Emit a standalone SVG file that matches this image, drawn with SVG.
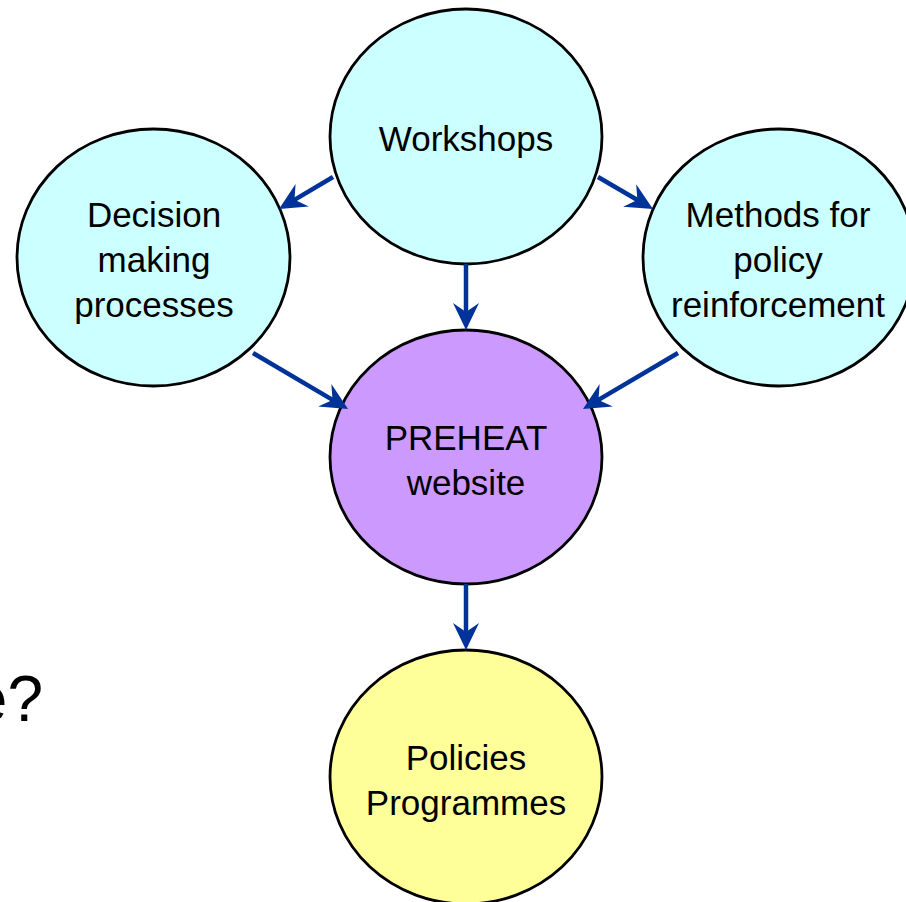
<svg xmlns="http://www.w3.org/2000/svg" width="906" height="902" viewBox="0 0 906 902">
<style>
.node ellipse{stroke:#000;stroke-width:2.8}
.cyan{fill:#CCFFFF}
.purple{fill:#CC99FF}
.yellow{fill:#FFFF99}
text{font-family:"Liberation Sans",Arial,sans-serif;font-size:35px;fill:#000;text-anchor:middle}
.conn line{stroke:#003399;stroke-width:4.5;fill:none}
</style>
<defs>
<marker id="ah" markerUnits="userSpaceOnUse" viewBox="0 -15 30 30" markerWidth="30" markerHeight="30" refX="12" refY="0" orient="auto">
<path d="M0,-13 L27,0 L0,13 L9,0 z" fill="#003399"/>
</marker>
</defs>
<rect width="906" height="902" fill="#fff"/>
<text x="43" y="721" style="font-size:64px;text-anchor:end">e?</text>
<g id="workshops" class="node">
<ellipse class="cyan" cx="466" cy="136.5" rx="136" ry="127.5"/>
<text x="466" y="151">Workshops</text>
</g>
<g id="decision" class="node">
<ellipse class="cyan" cx="153.5" cy="257.5" rx="136.5" ry="128.5"/>
<text x="154" y="227">Decision</text>
<text x="154" y="272">making</text>
<text x="154" y="317">processes</text>
</g>
<g id="methods" class="node">
<ellipse class="cyan" cx="779" cy="257.5" rx="136" ry="128.5"/>
<text x="778" y="227">Methods for</text>
<text x="778" y="272">policy</text>
<text x="778" y="317">reinforcement</text>
</g>
<g id="preheat" class="node">
<ellipse class="purple" cx="466" cy="457" rx="136" ry="127"/>
<text x="466" y="450">PREHEAT</text>
<text x="466" y="495">website</text>
</g>
<g id="policies" class="node">
<ellipse class="yellow" cx="466" cy="777" rx="136" ry="127"/>
<text x="466" y="770">Policies</text>
<text x="466" y="815">Programmes</text>
</g>
<g id="connectors" class="conn">
<line x1="333" y1="177" x2="291.9" y2="201.4" marker-end="url(#ah)"/>
<line x1="598" y1="177" x2="640" y2="201.5" marker-end="url(#ah)"/>
<line x1="466" y1="264" x2="466" y2="315" marker-end="url(#ah)"/>
<line x1="466" y1="584" x2="466" y2="635" marker-end="url(#ah)"/>
<line x1="253" y1="353" x2="335.1" y2="401.4" marker-end="url(#ah)"/>
<line x1="678" y1="353" x2="595.9" y2="401.4" marker-end="url(#ah)"/>
</g>
</svg>
